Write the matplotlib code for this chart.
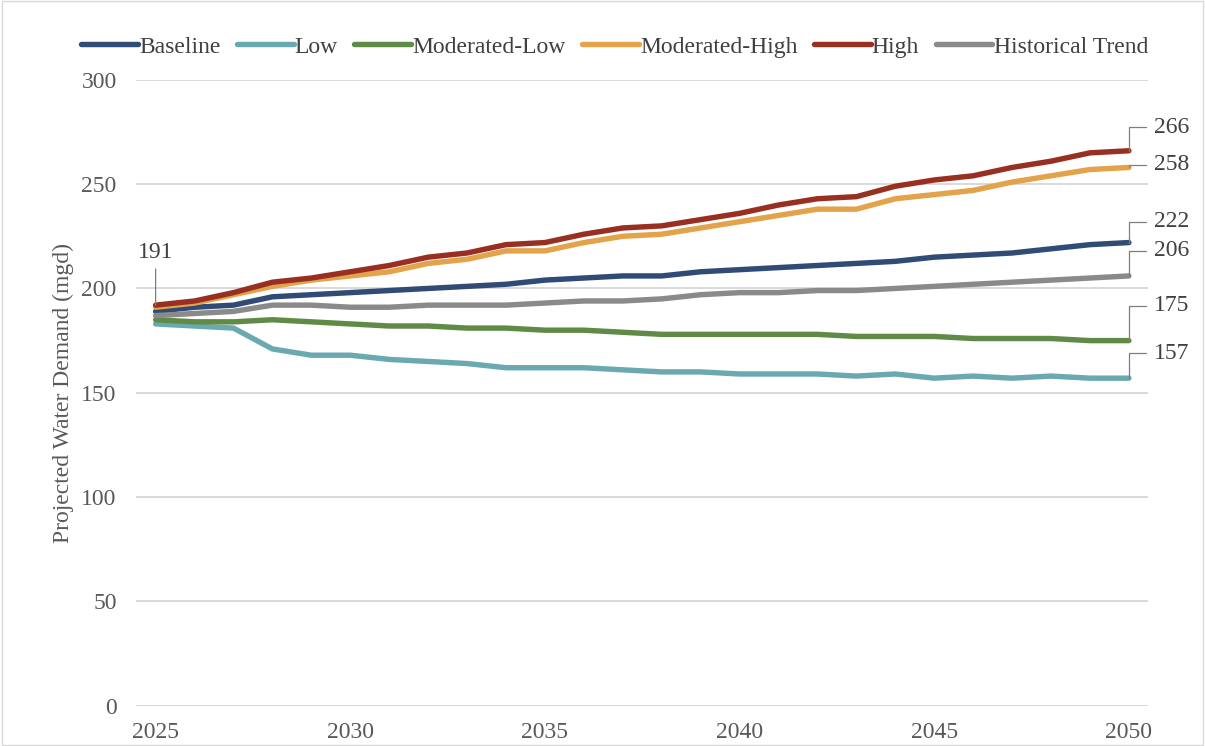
import numpy as np
from matplotlib import pyplot as plt
from matplotlib.patches import Rectangle

years = list(range(2025, 2051))

baseline = [189, 191, 192, 196, 197, 198, 199, 200, 201, 202, 204, 205, 206,
            206, 208, 209, 210, 211, 212, 213, 215, 216, 217, 219, 221, 222]
low = [183, 182, 181, 171, 168, 168, 166, 165, 164, 162, 162, 162, 161,
       160, 160, 159, 159, 159, 158, 159, 157, 158, 157, 158, 157, 157]
mod_low = [185, 184, 184, 185, 184, 183, 182, 182, 181, 181, 180, 180, 179,
           178, 178, 178, 178, 178, 177, 177, 177, 176, 176, 176, 175, 175]
mod_high = [191, 193, 197, 201, 204, 206, 208, 212, 214, 218, 218, 222, 225,
            226, 229, 232, 235, 238, 238, 243, 245, 247, 251, 254, 257, 258]
high = [192, 194, 198, 203, 205, 208, 211, 215, 217, 221, 222, 226, 229,
        230, 233, 236, 240, 243, 244, 249, 252, 254, 258, 261, 265, 266]
historical = [187, 188, 189, 192, 192, 191, 191, 192, 192, 192, 193, 194, 194,
              195, 197, 198, 198, 199, 199, 200, 201, 202, 203, 204, 205, 206]

names = ["Baseline", "Low", "Moderated-Low", "Moderated-High", "High", "Historical Trend"]
colors = ["#2f4b76", "#6aa9b0", "#5f8b46", "#e3a34b", "#992f21", "#8a8a8a"]

# end labels: series index, text, offset (points)
end_labels = [(4, "266", (18, 17)), (3, "258", (18, 2)), (0, "222", (18, 15)),
              (5, "206", (18, 18)), (2, "175", (18, 25)), (1, "157", (18, 18))]

plt.rcParams['font.family'] = ['Liberation Serif', 'DejaVu Serif']

fig = plt.figure(figsize=(12.05, 7.46), dpi=100)
ax = fig.add_axes([0.113, 0.054, 0.840, 0.839])

series = [baseline, low, mod_low, mod_high, high, historical]
for y, name, c in zip(series, names, colors):
    ax.plot(years, y, color=c, lw=3.9, label=name, solid_capstyle='round')

ax.set_xlim(2024.5, 2050.5)
ax.set_ylim(0, 300)
ax.set_yticks(range(0, 301, 50))
ax.set_xticks(range(2025, 2051, 5))
ax.grid(axis='y', color='#d9d9d9', lw=1.4)
ax.set_axisbelow(True)
for s in ax.spines.values():
    s.set_visible(False)
ax.tick_params(length=0, labelsize=17, colors='#595959', pad=12)
ax.tick_params(axis='y', pad=14)
ax.set_ylabel("Projected Water Demand (mgd)", fontsize=17, color='#595959', labelpad=5)

# start label
ax.annotate("191", xy=(years[0], high[0]), xytext=(0, 30), textcoords='offset points',
            ha='center', va='bottom', fontsize=17, color='#404040',
            arrowprops=dict(arrowstyle='-', color='#7f7f7f', lw=0.9, shrinkA=2, shrinkB=0))

for idx, txt, off in end_labels:
    ax.annotate(txt, xy=(years[-1], series[idx][-1]), xytext=off, textcoords='offset points',
                ha='left', va='center', fontsize=17, color='#404040',
                arrowprops=dict(arrowstyle='-', color='#7f7f7f', lw=0.9, shrinkA=4, shrinkB=0,
                                connectionstyle='angle,angleA=0,angleB=90,rad=0'))

fig.legend(loc='upper center', bbox_to_anchor=(0.51, 0.98), ncol=6, frameon=False,
           fontsize=17, handlelength=2.4, handletextpad=0.05, columnspacing=0.7,
           labelcolor='#404040')

fig.patches.append(Rectangle((0.002, 0.002), 0.996, 0.996, transform=fig.transFigure,
                             fill=False, edgecolor='#d9d9d9', lw=1))

plt.savefig("out.png", dpi=100)
